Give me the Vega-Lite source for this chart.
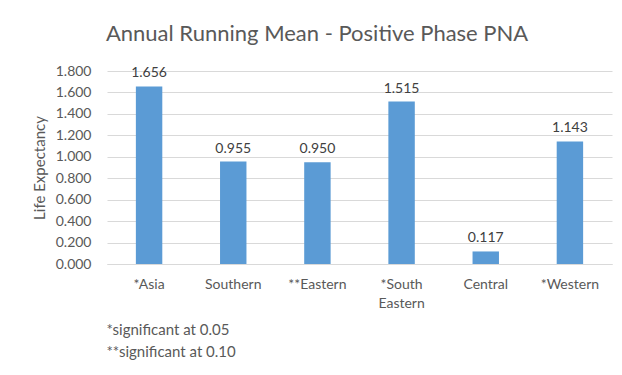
{
  "$schema": "https://vega.github.io/schema/vega-lite/v6.json",
  "autosize": "none",
  "width": 505,
  "height": 193,
  "padding": {"left": 107, "top": 71, "right": 10, "bottom": 111},
  "background": "white",
  "title": {
    "text": "Annual Running Mean - Positive Phase PNA",
    "anchor": "middle",
    "frame": "bounds",
    "fontSize": 22,
    "font": "Lato",
    "fontWeight": "normal",
    "color": "#595959",
    "offset": 18,
    "dx": -5
  },
  "data": {
    "values": [
      {"region": "*Asia", "value": 1.656},
      {"region": "Southern", "value": 0.955},
      {"region": "**Eastern", "value": 0.950},
      {"region": "*South Eastern", "value": 1.515},
      {"region": "Central", "value": 0.117},
      {"region": "*Western", "value": 1.143}
    ]
  },
  "encoding": {
    "x": {
      "field": "region",
      "type": "nominal",
      "sort": null,
      "scale": {"paddingInner": 0.686, "paddingOuter": 0.343},
      "axis": {
        "title": ["*significant at 0.05", "**significant at 0.10"],
        "titleAnchor": "start",
        "titleAlign": "left",
        "titleBaseline": "top",
        "titleX": -1,
        "titleY": 58,
        "titleLineHeight": 22,
        "titleFontSize": 15,
        "titleFontWeight": "normal",
        "titleFont": "Lato",
        "titleColor": "#595959",
        "labelAngle": 0,
        "labelFont": "Lato",
        "labelFontSize": 14,
        "labelColor": "#595959",
        "labelPadding": 13,
        "labelLineHeight": 19,
        "labelExpr": "datum.label == '*South Eastern' ? ['*South', 'Eastern'] : datum.label",
        "ticks": false,
        "domainColor": "#D9D9D9",
        "grid": false
      }
    },
    "y": {
      "field": "value",
      "type": "quantitative",
      "scale": {"domain": [0, 1.8]},
      "axis": {
        "title": "Life Expectancy",
        "titleFont": "Lato",
        "titleFontSize": 15,
        "titleFontWeight": "normal",
        "titleColor": "#595959",
        "titlePadding": 8,
        "values": [0, 0.2, 0.4, 0.6, 0.8, 1.0, 1.2, 1.4, 1.6, 1.8],
        "format": ".3f",
        "labelFont": "Lato",
        "labelFontSize": 14,
        "labelColor": "#595959",
        "labelPadding": 16,
        "ticks": false,
        "domain": false,
        "gridColor": "#D9D9D9"
      }
    }
  },
  "layer": [
    {"mark": {"type": "bar", "color": "#5B9BD5"}},
    {
      "mark": {"type": "text", "baseline": "bottom", "dy": -6, "font": "Lato", "fontSize": 14, "color": "#404040"},
      "encoding": {"text": {"field": "value", "type": "quantitative", "format": ".3f"}}
    }
  ],
  "config": {"view": {"stroke": null}}
}
